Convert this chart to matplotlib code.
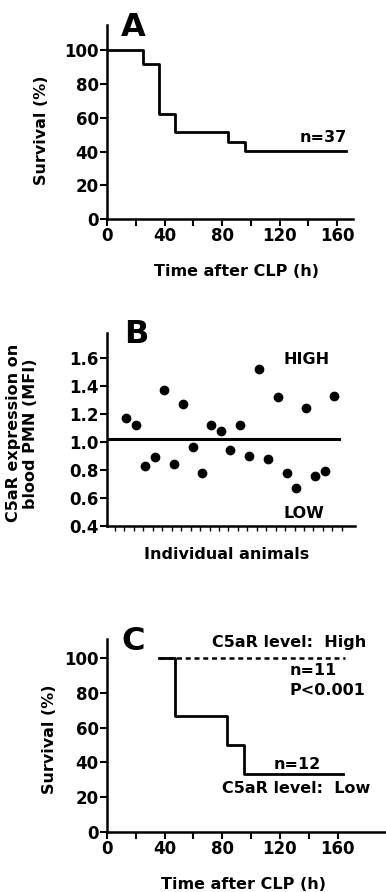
import numpy as np
import matplotlib
matplotlib.use("Agg")
from matplotlib import pyplot as plt

# panel A: overall survival after CLP (Kaplan-Meier steps)
a_time = [0, 25, 36, 47, 84, 96, 166]
a_surv = [100, 91.9, 62.2, 51.4, 45.9, 40.5, 40.5]

# panel B: C5aR expression (MFI) on blood PMN, one point per animal
b_mfi = [1.17, 1.12, 0.83, 0.89, 1.37, 0.84, 1.27, 0.96, 0.78, 1.12, 1.08, 0.94,
         1.12, 0.90, 1.52, 0.88, 1.32, 0.78, 0.67, 1.24, 0.76, 0.79, 1.33]
b_cutoff = 1.02

# panel C: survival split by C5aR level
c_high_time = [36, 165]
c_high_surv = [100, 100]
c_low_time = [36, 47, 83, 95, 164]
c_low_surv = [100, 66.7, 50.0, 33.3, 33.3]

plt.rcParams['font.family'] = ['DejaVu Sans']
plt.rcParams['font.weight'] = 'bold'
plt.rcParams['axes.labelweight'] = 'bold'

W, H = 386.0, 892.0
fig = plt.figure(figsize=(3.86, 8.92), dpi=100)


def px_axes(left, right, top, bottom):
    return fig.add_axes([left / W, 1 - bottom / H, (right - left) / W, (bottom - top) / H])


def style(ax):
    for s in ['top', 'right']:
        ax.spines[s].set_visible(False)
    for s in ['left', 'bottom']:
        ax.spines[s].set_linewidth(1.8)
    ax.tick_params(width=1.5, length=5, labelsize=12, pad=1)
    for lab in ax.get_xticklabels() + ax.get_yticklabels():
        lab.set_fontweight('bold')


def time_ticks(ax):
    ax.set_xticks(np.arange(0, 161, 20))
    ax.set_xticklabels(['0', '', '40', '', '80', '', '120', '', '160'])
    ax.set_yticks(np.arange(0, 101, 20))


# ---- A
axA = px_axes(107, 353, 25, 219)
axA.step(a_time, a_surv, where='post', color='black', lw=2.0)
axA.set_xlim(0, 171)
axA.set_ylim(0, 115)
time_ticks(axA)
style(axA)
axA.set_ylabel('Survival (%)', fontsize=11.5)
axA.yaxis.set_label_coords(-0.235, 0.46)
axA.set_xlabel('Time after CLP (h)', fontsize=11.5)
axA.xaxis.set_label_coords(0.528, -0.23)
axA.text(150, 48.5, 'n=37', ha='center', va='center', fontsize=11.5, fontweight='bold')
fig.text(133 / W, 1 - 28 / H, 'A', fontsize=23, fontweight='bold', ha='center', va='center')

# ---- B
axB = px_axes(107, 355, 333, 526)
idx = np.arange(1, len(b_mfi) + 1)
axB.plot(idx, b_mfi, 'o', color='black', ms=6)
axB.axhline(b_cutoff, xmin=0, xmax=0.935, color='black', lw=2.2)
axB.set_xlim(-1.05, 25.2)
axB.set_ylim(0.4, 1.776)
axB.set_yticks(np.arange(0.4, 1.61, 0.2))
axB.set_yticklabels(['%.1f' % v for v in np.arange(0.4, 1.61, 0.2)])
axB.set_xticks(np.arange(25) - 0.2)
axB.set_xticklabels([])
style(axB)
axB.tick_params(axis='x', length=3.5, width=1.0)
axB.set_ylabel('C5aR expression on\nblood PMN (MFI)', fontsize=11.5, linespacing=1.1)
axB.yaxis.set_label_coords(-0.28, 0.48)
axB.set_xlabel('Individual animals', fontsize=11.5)
axB.xaxis.set_label_coords(0.484, -0.11)
axB.text(20.1, 1.587, 'HIGH', ha='center', va='center', fontsize=11.5, fontweight='bold')
axB.text(19.8, 0.489, 'LOW', ha='center', va='center', fontsize=11.5, fontweight='bold')
fig.text(136 / W, 1 - 335 / H, 'B', fontsize=23, fontweight='bold', ha='center', va='center')

# ---- C
axC = px_axes(107, 386, 639, 831.7)
axC.plot(c_high_time, c_high_surv, color='black', lw=1.8, ls=(0, (2, 1.5)))
axC.step(c_low_time, c_low_surv, where='post', color='black', lw=2.0)
axC.set_xlim(0, 193.6)
axC.set_ylim(0, 111)
time_ticks(axC)
style(axC)
axC.set_ylabel('Survival (%)', fontsize=11.5)
axC.yaxis.set_label_coords(-0.18, 0.48)
axC.set_xlabel('Time after CLP (h)', fontsize=11.5)
axC.xaxis.set_label_coords(0.489, -0.235)
axC.text(179.8, 109, 'C5aR level:  High', ha='right', va='center', fontsize=11.5, fontweight='bold')
axC.text(143, 93, 'n=11', ha='center', va='center', fontsize=11.5, fontweight='bold')
axC.text(126.6, 81.4, 'P<0.001', ha='left', va='center', fontsize=11.5, fontweight='bold')
axC.text(131.7, 38.5, 'n=12', ha='center', va='center', fontsize=11.5, fontweight='bold')
axC.text(182.5, 25, 'C5aR level:  Low', ha='right', va='center', fontsize=11.5, fontweight='bold')
fig.text(133 / W, 1 - 642 / H, 'C', fontsize=23, fontweight='bold', ha='center', va='center')

fig.savefig('out.png', dpi=100)
